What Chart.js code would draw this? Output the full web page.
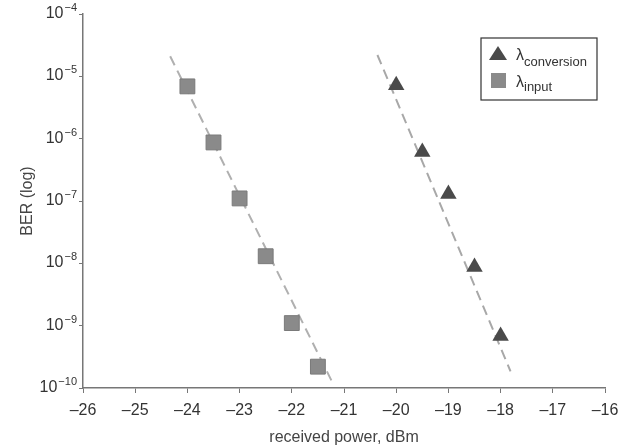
<!DOCTYPE html>
<html lang="en">
<head>
<meta charset="UTF-8">
<title>BER vs received power</title>
<script src="https://cdn.jsdelivr.net/npm/chart.js"></script>
<style>
  html, body { margin: 0; padding: 0; background: #fff; }
  #wrap { width: 618px; height: 448px; position: relative; }
</style>
</head>
<body>
<div id="wrap"><canvas id="berChart" width="618" height="448"></canvas></div>
<script>
// received power (dBm) and BER
const powerInput = [-24, -23.5, -23, -22.5, -22, -21.5];
const berInput = [6.9e-6, 8.7e-7, 1.1e-7, 1.3e-8, 1.1e-9, 2.2e-10];

const powerConv = [-20, -19.5, -19, -18.5, -18];
const berConv = [7.2e-6, 6.1e-7, 1.3e-7, 8.7e-9, 6.8e-10];

// end points of the dashed fit lines
const fitInputX = [-24.33, -21.21];
const fitInputY = [2.1e-5, 1.17e-10];
const fitConvX = [-20.36, -17.81];
const fitConvY = [2.2e-5, 1.85e-10];

const xTicks = [-26, -25, -24, -23, -22, -21, -20, -19, -18, -17, -16];
const yTicks = [1e-10, 1e-9, 1e-8, 1e-7, 1e-6, 1e-5, 1e-4];

const FONT = '"Liberation Sans", Arial, sans-serif';

function pts(xs, ys) {
    return xs.map((x, i) => ({ x: x, y: ys[i] }));
}

// y tick labels as 10 with a raised exponent
const powerLabels = {
    id: 'powerLabels',
    afterDraw(chart) {
        const c = chart.ctx;
        const sy = chart.scales.y;
        const right = sy.right - 6;
        c.save();
        c.fillStyle = '#333';
        c.textBaseline = 'alphabetic';
        c.textAlign = 'left';
        yTicks.forEach(v => {
            const y = sy.getPixelForValue(v);
            const exp = '\u2212' + Math.abs(Math.round(Math.log10(v)));
            c.font = '11px ' + FONT;
            const ew = c.measureText(exp).width;
            c.font = '16px ' + FONT;
            const bw = c.measureText('10').width;
            const x0 = right - ew - bw - 1;
            c.fillText('10', x0, y + 4);
            c.font = '11px ' + FONT;
            c.fillText(exp, x0 + bw + 1, y - 3);
        });
        c.restore();
    }
};

// legend with subscripts, drawn on the canvas
const legendBox = {
    id: 'legendBox',
    afterDraw(chart) {
        const c = chart.ctx;
        const x0 = 481, y0 = 38, w = 116, h = 62;
        c.save();
        c.strokeStyle = '#333';
        c.lineWidth = 1.2;
        c.strokeRect(x0, y0, w, h);
        c.fillStyle = '#4a4a4a';
        c.beginPath();
        c.moveTo(498, 46);
        c.lineTo(507, 60);
        c.lineTo(489, 60);
        c.closePath();
        c.fill();
        c.fillStyle = '#8a8a8a';
        c.fillRect(491, 73, 15, 15);
        c.fillStyle = '#333';
        c.textBaseline = 'alphabetic';
        c.font = '16px ' + FONT;
        c.fillText('λ', 516, 60);
        c.fillText('λ', 516, 87);
        c.font = '13px ' + FONT;
        c.fillText('conversion', 524, 66);
        c.fillText('input', 524, 91);
        c.restore();
    }
};

const ctx = document.getElementById('berChart').getContext('2d');
const berChart = new Chart(ctx, {
    type: 'scatter',
    data: {
        datasets: [
            {
                label: 'λconversion',
                data: pts(powerConv, berConv),
                pointStyle: 'triangle',
                pointRadius: 9.5,
                backgroundColor: '#4a4a4a',
                borderColor: '#4a4a4a',
                borderWidth: 0,
                order: 1
            },
            {
                label: 'λinput',
                data: pts(powerInput, berInput),
                pointStyle: 'rect',
                pointRadius: 10.5,
                backgroundColor: '#8a8a8a',
                borderColor: '#7a7a7a',
                borderWidth: 1,
                order: 1
            },
            {
                label: 'fit conversion',
                data: pts(fitConvX, fitConvY),
                showLine: true,
                pointRadius: 0,
                borderColor: '#a8a8a8',
                borderWidth: 2,
                borderDash: [10, 6],
                order: 2
            },
            {
                label: 'fit input',
                data: pts(fitInputX, fitInputY),
                showLine: true,
                pointRadius: 0,
                borderColor: '#b0b0b0',
                borderWidth: 2,
                borderDash: [10, 6],
                order: 2
            }
        ]
    },
    options: {
        responsive: false,
        animation: false,
        layout: { padding: { top: 14, right: 13, left: 0, bottom: 0 } },
        plugins: {
            legend: { display: false },
            tooltip: { enabled: false }
        },
        scales: {
            x: {
                type: 'linear',
                min: -26,
                max: -16,
                afterBuildTicks: s => { s.ticks = xTicks.map(v => ({ value: v })); },
                afterFit: s => { s.height = 60; s.paddingLeft = 0; s.paddingRight = 0; },
                grid: { drawOnChartArea: false, drawTicks: true, tickLength: 5, color: '#777' },
                border: { display: true, color: '#777', width: 1.5 },
                ticks: {
                    color: '#333',
                    padding: 8,
                    maxRotation: 0,
                    font: { family: FONT, size: 16 },
                    callback: v => '–' + Math.abs(v)
                },
                title: {
                    display: true,
                    text: 'received power, dBm',
                    color: '#444',
                    padding: { top: 0, bottom: 1 },
                    font: { family: FONT, size: 16 }
                }
            },
            y: {
                type: 'logarithmic',
                min: 1e-10,
                max: 1e-4,
                afterBuildTicks: s => { s.ticks = yTicks.map(v => ({ value: v })); },
                afterFit: s => { s.width = 83; },
                grid: { drawOnChartArea: false, drawTicks: true, tickLength: 4, color: '#777' },
                border: { display: true, color: '#777', width: 1.5 },
                ticks: { display: false },
                title: {
                    display: true,
                    text: 'BER (log)',
                    color: '#444',
                    padding: { top: 18, bottom: 0 },
                    font: { family: FONT, size: 16 }
                }
            }
        }
    },
    plugins: [powerLabels, legendBox]
});
</script>
</body>
</html>
